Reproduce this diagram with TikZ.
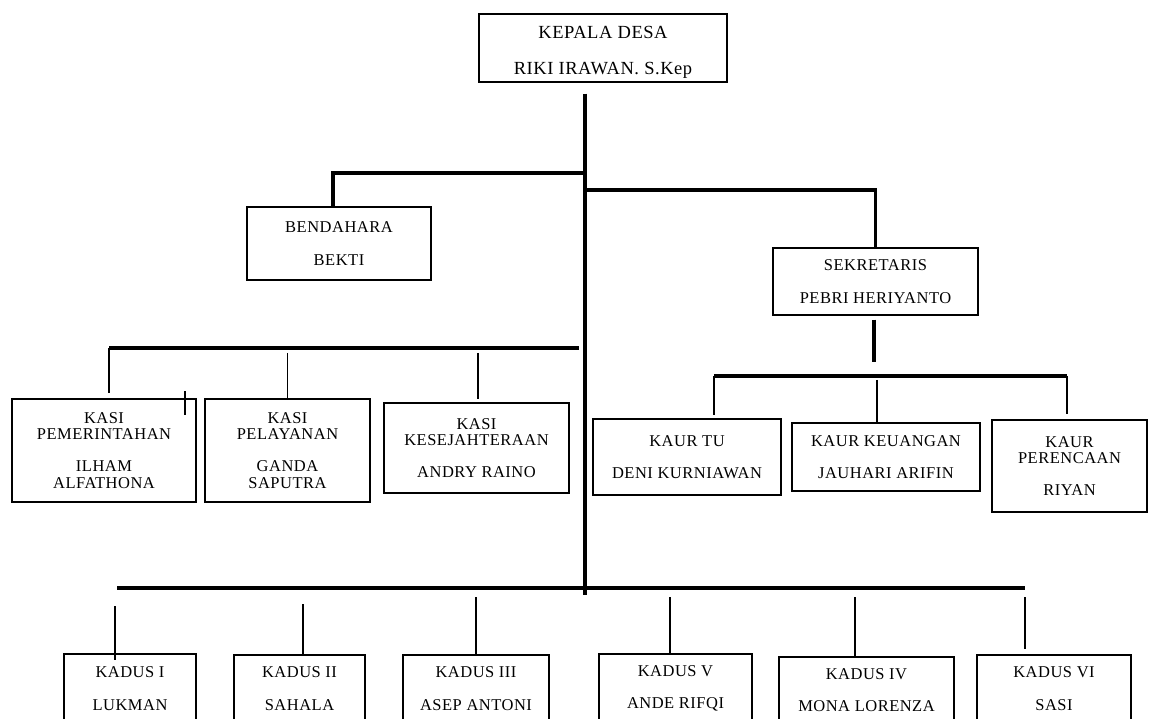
\documentclass[tikz,border=0pt]{standalone}
\usepackage{fontspec}
\setmainfont{Liberation Serif}
\newfontfamily\jfont{Liberation Serif}[LetterSpace=3]
\usetikzlibrary{positioning,calc}

\tikzset{
  jabatan/.style={draw, line width=1.3pt, inner sep=0pt, align=center, font=\jfont\fontsize{16.5}{16.5}\selectfont},
  garis/.style={line width=3.2pt},
  cabang/.style={line width=1.6pt}
}

\begin{document}
\begin{tikzpicture}[x=1pt, y=-1pt]
\useasboundingbox (0,0) rectangle (1149,719);
\clip (0,0) rectangle (1149,719);

\node[jabatan, minimum width=248pt, minimum height=68pt, font=\jfont\fontsize{18.5}{18}\selectfont] (kades) at (603,48) {\rule{0pt}{21pt}KEPALA DESA\\[18pt]RIKI IRAWAN. S.Kep};
\node[jabatan, minimum width=184pt, minimum height=73pt] (bend) at (339,243.5) {BENDAHARA\\[16pt]BEKTI};
\node[jabatan, minimum width=205pt, minimum height=67pt] (sekr) at (875.5,281.5) {SEKRETARIS\\[16pt]PEBRI HERIYANTO};

\node[jabatan, minimum width=184pt, minimum height=103pt] (pem) at (104,450.5) {KASI\\PEMERINTAHAN\\[15.5pt]ILHAM\\ALFATHONA};
\node[jabatan, minimum width=165pt, minimum height=103pt] (pel) at (287.5,450.5) {KASI\\PELAYANAN\\[15.5pt]GANDA\\SAPUTRA};
\node[jabatan, minimum width=185pt, minimum height=90pt] (kes) at (476.5,448) {KASI\\KESEJAHTERAAN\\[15.5pt]ANDRY RAINO};

\node[jabatan, minimum width=188pt, minimum height=76pt] (kaurtu) at (687,457) {KAUR TU\\[16pt]DENI KURNIAWAN};
\node[jabatan, minimum width=188pt, minimum height=68pt] (kaurkeu) at (886,457) {KAUR KEUANGAN\\[16pt]JAUHARI ARIFIN};
\node[jabatan, minimum width=155pt, minimum height=92pt] (kaurren) at (1069.5,466) {KAUR\\PERENCAAN\\[15.5pt]RIYAN};

\node[jabatan, minimum width=132pt, minimum height=69pt] (kadus1) at (130,688.5) {KADUS I\\[16pt]LUKMAN};
\node[jabatan, minimum width=131pt, minimum height=67pt] (kadus2) at (299.5,688.5) {KADUS II\\[16pt]SAHALA};
\node[jabatan, minimum width=146pt, minimum height=67pt] (kadus3) at (476,688.5) {KADUS III\\[16pt]ASEP ANTONI};
\node[jabatan, minimum width=153pt, minimum height=69pt] (kadus5) at (675.5,688.5) {KADUS V\\[16pt]ANDE RIFQI};
\node[jabatan, minimum width=175pt, minimum height=66pt] (kadus4) at (866.5,690) {KADUS IV\\[16pt]MONA LORENZA};
\node[jabatan, minimum width=154pt, minimum height=67pt] (kadus6) at (1054,688.5) {KADUS VI\\[16pt]SASI};

\coordinate (dasar) at (585,595);
\coordinate (cb) at (585,173);
\coordinate (cs) at (585,190);
\draw[garis] ($(kades.south)+(-18,11)$) -- (dasar);
\draw[garis] (cb) -| ($(bend.north)+(-6,0)$);
\draw[garis] (cs) -| (sekr.north);
\draw[garis] ($(sekr.south)+(-1.5,4)$) -- ($(sekr.south)+(-1.5,46)$);

\coordinate (kaurL) at (714,376);
\coordinate (kaurM) at (877,376);
\coordinate (kaurR) at (1067,376);
\draw[garis] (kaurL) -- (kaurR);
\draw[cabang] (kaurL) -- ($(kaurL |- kaurtu.north)+(0,-3)$);
\draw[cabang] ($(kaurM)+(0,4)$) -- (kaurM |- kaurkeu.north);
\draw[cabang] (kaurR) -- ($(kaurR |- kaurren.north)+(0,-5)$);

\coordinate (kasiL) at (109,348);
\coordinate (kasiR) at (579,348);
\draw[garis] (kasiL) -- (kasiR);
\draw[cabang] (kasiL) -- ($(kasiL |- pem.north)+(0,-5)$);
\draw[cabang] ($(kasiL -| pel.north)+(0,5)$) -- (pel.north);
\draw[cabang] ($(kasiL -| kes.north)+(1.5,5)$) -- ($(kes.north)+(1.5,-3)$);
\draw[cabang] ($(pem.north)+(81,-7)$) -- ($(pem.north)+(81,17)$);

\coordinate (kadusL) at (117,588);
\coordinate (kadusR) at (1025,588);
\draw[garis] (kadusL) -- (kadusR);
\draw[cabang] ($(kadus1.north)+(-15,-47)$) -- ($(kadus1.north)+(-15,7)$);
\draw[cabang] ($(kadus2.north)+(3.5,-50)$) -- ($(kadus2.north)+(3.5,0)$);
\draw[cabang] ($(kadus3.north)+(0,-57)$) -- (kadus3.north);
\draw[cabang] ($(kadus5.north)+(-5.5,-56)$) -- ($(kadus5.north)+(-5.5,0)$);
\draw[cabang] ($(kadus4.north)+(-11.5,-59)$) -- ($(kadus4.north)+(-11.5,0)$);
\draw[cabang] ($(kadus6.north)+(-29,-57)$) -- ($(kadus6.north)+(-29,-5)$);
\end{tikzpicture}
\end{document}
